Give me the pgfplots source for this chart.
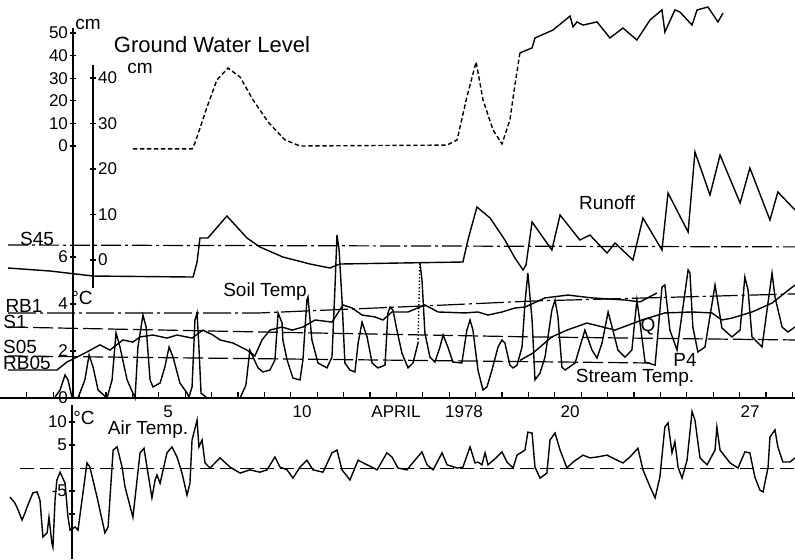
\documentclass[border=0pt]{standalone}
\usepackage{fontspec}
\setmainfont{Liberation Sans}
\usepackage{pgfplots}
\pgfplotsset{compat=1.18}

% every layer covers the whole picture; x is the day of April 1978
\pgfplotsset{
  layer/.style={width=397.5pt,height=279.5pt,scale only axis,
    xmin=-1.515,xmax=28.6,at={(0,0)},anchor=south west,clip=false},
  curve/.style={black,line width=0.7pt,no marks},
  scale/.style={scale only axis,width=0.01pt,xmin=0,xmax=1,anchor=south west,
    axis x line=none,xtick=\empty,tick style={black,line width=0.6pt},
    major tick length=2.5pt,tick align=outside,
    /pgf/number format/assume math mode=true,
    yticklabel style={font=\fontsize{8.5}{9}\selectfont,inner sep=1pt}},
  noarrow/.style={axis line style={-,line width=0.6pt}},
}

\begin{document}
\begin{tikzpicture}
\useasboundingbox (0,0) rectangle (397.5pt,279.5pt);

% Ground Water Level (cm)
\begin{axis}[layer,hide axis,ymin=-182.74,ymax=64.60]
\addplot[curve,dash pattern=on 2.2pt off 1.3pt] coordinates {
(3.52,-1.3)(5.76,-1.3)(5.87,1.3)(6.33,17.3)(6.70,29.2)(7.12,34.5)(7.58,30.5)
(8.07,20.4)(8.64,10.6)(9.28,2.7)(9.85,0)(15.42,0.4)(15.80,2.7)(16.17,21.7)
(16.52,37.2)(16.78,20.4)(17.16,7.1)(17.50,0.9)(17.80,11.5)(17.99,27.0)(18.18,41.2)};
\addplot[curve] coordinates {
(18.18,41.2)(18.64,43.4)(18.75,47.8)(19.43,51.3)(20.08,57.5)(20.19,52.7)
(20.34,54.9)(20.57,53.5)(21.10,54.9)(21.59,47.8)(22.08,52.2)(22.61,46.9)
(23.11,55.8)(23.56,60.2)(23.67,50.4)(24.05,60.2)(24.24,59.3)(24.70,53.5)
(24.89,60.2)(25.30,61.5)(25.68,54.9)(25.87,58.8)};
\end{axis}

% Runoff (cm)
\begin{axis}[layer,hide axis,ymin=-65.71,ymax=57.14]
\addplot[curve] coordinates {
(-1.21,-1.76)(0.38,-2.42)(2.01,-3.52)(5.80,-3.74)(5.95,-0.44)(6.06,4.84)
(6.36,4.84)(7.08,9.67)(7.84,4.84)(8.33,2.86)(9.20,0.66)(10.23,-0.88)
(10.98,-1.76)(11.36,-0.88)(13.64,-0.66)(16.02,-0.44)(16.21,4.4)(16.55,11.65)
(17.05,9.23)(17.61,4.4)(17.99,0.44)(18.30,-2.2)(18.41,-1.1)(18.64,8.35)
(19.39,2.2)(19.70,9.89)(20.45,4.4)(20.83,5.49)(21.48,1.54)(21.78,3.74)
(22.46,0)(22.84,9.23)(23.56,2.2)(23.79,14.73)(24.55,6.15)(24.81,23.74)
(25.38,14.29)(25.76,23.08)(26.52,12.53)(26.89,20.22)(27.65,8.79)(27.95,14.95)
(28.60,10.99)};
\end{axis}

% Soil and stream temperature (deg C)
\begin{axis}[layer,hide axis,ymin=-6.851,ymax=16.936,unbounded coords=jump]
% day boundary ticks on the date axis
\addplot[black,line width=0.6pt,no marks] coordinates {
(-0.5,0)(-0.5,0.25)(-0.5,nan)(0.5,0)(0.5,0.25)(0.5,nan)(1.5,0)(1.5,0.25)(1.5,nan)
(2.5,0)(2.5,0.25)(2.5,nan)(3.5,0)(3.5,0.25)(3.5,nan)(4.5,0)(4.5,0.25)(4.5,nan)
(5.5,0)(5.5,0.25)(5.5,nan)(6.5,0)(6.5,0.25)(6.5,nan)(7.5,0)(7.5,0.25)(7.5,nan)
(8.5,0)(8.5,0.25)(8.5,nan)(9.5,0)(9.5,0.25)(9.5,nan)(10.5,0)(10.5,0.25)(10.5,nan)
(11.5,0)(11.5,0.25)(11.5,nan)(12.5,0)(12.5,0.25)(12.5,nan)(13.5,0)(13.5,0.25)(13.5,nan)
(14.5,0)(14.5,0.25)(14.5,nan)(15.5,0)(15.5,0.25)(15.5,nan)(16.5,0)(16.5,0.25)(16.5,nan)
(17.5,0)(17.5,0.25)(17.5,nan)(18.5,0)(18.5,0.25)(18.5,nan)(19.5,0)(19.5,0.25)(19.5,nan)
(20.5,0)(20.5,0.25)(20.5,nan)(21.5,0)(21.5,0.25)(21.5,nan)(22.5,0)(22.5,0.25)(22.5,nan)
(23.5,0)(23.5,0.25)(23.5,nan)(24.5,0)(24.5,0.25)(24.5,nan)(25.5,0)(25.5,0.25)(25.5,nan)
(26.5,0)(26.5,0.25)(26.5,nan)(27.5,0)(27.5,0.25)(27.5,nan)(28.5,0)(28.5,0.25)};
% S45
\addplot[curve,line width=0.6pt,dash pattern=on 10pt off 2pt on 1.5pt off 2pt] coordinates {(-1.21,6.51)(28.6,6.43)};
% RB1
\addplot[curve,line width=0.6pt,dash pattern=on 14pt off 2pt on 1.5pt off 2pt] coordinates {
(-1.21,3.62)(8.33,3.62)(14.39,3.91)(18.75,4.13)(28.6,4.43)};
% S1
\addplot[curve,line width=0.6pt,dash pattern=on 10pt off 2.5pt] coordinates {
(-1.21,3.02)(8.33,2.81)(18.56,2.60)(28.6,2.47)};
% S05 / P4
\addplot[curve,line width=0.6pt,dash pattern=on 10pt off 2.5pt] coordinates {(-1.21,1.79)(23.11,1.49)};
% RB05
\addplot[curve] coordinates {
(-1.21,1.19)(0.64,1.19)(1.02,1.53)(1.40,1.74)(1.78,1.96)(2.27,2.26)(2.65,2.04)
(3.14,2.47)(3.52,2.38)(3.79,2.60)(4.28,2.68)(4.81,2.55)(5.19,2.68)(5.76,2.55)
(6.17,2.89)(6.55,2.68)(6.82,2.47)(7.31,2.34)(7.84,2.04)(8.14,1.79)(8.41,2.47)
(8.71,2.89)(9.17,3.02)(9.55,2.89)(9.96,3.02)(10.42,3.32)(11.06,3.23)(11.48,3.96)
(11.82,3.83)(12.20,3.53)(12.69,3.45)(12.99,3.32)(13.33,3.66)(13.94,3.66)
(14.58,3.96)(15.08,3.66)(16.10,3.62)(16.59,3.66)(16.97,3.53)(17.50,3.66)
(17.99,3.83)(18.37,3.87)(19.13,4.26)(20.00,4.38)(20.91,4.26)(22.16,4.17)
(22.73,4.09)(23.37,4.47)};
% Q
\addplot[curve] coordinates {
(18.18,1.60)(18.67,1.91)(19.39,2.60)(19.96,2.89)(20.72,3.19)(21.78,2.89)
(22.80,3.32)(23.67,3.62)(24.70,3.66)(25.45,3.62)(25.83,3.32)(26.21,3.40)
(26.97,3.66)(27.73,4.04)(28.60,4.81)};
% Stream temperature
\addplot[curve] coordinates {
(0.57,0.04)(0.76,0.34)(0.95,0.98)(1.06,0.77)(1.21,0.04)(1.44,0)(1.70,0.77)
(1.86,1.83)(2.01,1.32)(2.20,0.34)(2.54,0)(2.73,0.77)(2.88,2.77)(3.03,2.17)
(3.30,0.77)(3.60,0)(3.71,2.17)(3.90,3.53)(4.02,3.02)(4.17,0.77)(4.28,0.47)
(4.55,0.64)(4.73,1.32)(4.89,2.17)(5.04,1.74)(5.30,0.64)(5.57,0.21)(5.64,0.04)
(5.76,0.47)(5.87,3.32)(5.95,3.62)(6.02,2.17)(6.10,0.21)(6.33,0)(7.58,0)
(7.80,0.55)(7.95,2.04)(8.07,1.74)(8.26,1.28)(8.45,1.11)(8.71,1.19)(8.90,1.62)
(9.02,3.62)(9.17,3.19)(9.20,2.47)(9.36,1.62)(9.58,0.85)(9.85,0.77)(9.96,1.62)
(10.11,4.17)(10.15,4.30)(10.30,2.47)(10.53,1.49)(10.87,1.28)(11.06,1.74)
(11.17,4.60)(11.25,6.94)(11.33,6.30)(11.44,4.17)(11.55,1.49)(11.74,1.19)
(11.93,1.11)(12.05,2.34)(12.20,3.23)(12.39,2.60)(12.58,1.49)(12.80,1.28)
(13.07,1.40)(13.18,3.62)(13.26,3.87)(13.37,3.74)(13.52,2.89)(13.71,1.91)
(13.94,1.28)(14.13,1.49)(14.28,2.17)(14.32,2.34)};
\addplot[curve,densely dotted] coordinates {(14.32,2.34)(14.39,5.79)};
\addplot[curve] coordinates {
(14.39,5.79)(14.47,5.02)(14.58,2.77)(14.77,1.74)(14.96,1.53)(15.15,2.17)
(15.27,2.68)(15.45,2.17)(15.64,1.53)(15.98,1.49)(16.17,2.89)(16.29,3.32)
(16.40,2.89)(16.59,1.19)(16.78,0.34)(16.93,0.47)(17.12,1.19)(17.35,2.17)
(17.50,2.47)(17.61,2.34)(17.80,1.40)(17.92,1.28)(18.07,1.40)(18.26,2.17)
(18.37,4.04)(18.48,5.32)(18.64,3.32)(18.75,0.77)(18.94,1.06)(19.13,1.74)
(19.39,3.74)(19.51,4.17)(19.62,3.45)(19.77,1.32)(19.89,1.19)(20.27,1.49)
(20.64,2.89)(20.91,2.04)(21.10,1.70)(21.29,2.34)(21.52,3.66)(21.67,3.02)
(21.89,2.04)(22.16,1.74)(22.42,2.04)(22.61,4.17)(22.73,3.19)(22.92,1.53)
(23.30,1.40)(23.56,4.72)(23.67,4.81)(23.86,2.89)(24.13,2.04)(24.55,5.45)
(24.62,5.32)(24.73,3.02)(24.92,1.96)(25.19,2.17)(25.57,4.81)(25.68,4.04)
(25.83,2.98)(26.21,2.60)(26.52,2.89)(26.70,5.15)(26.82,4.60)(26.97,2.60)
(27.35,2.17)(27.73,5.32)(27.84,4.30)(28.11,3.02)(28.33,2.81)(28.60,3.02)};
\end{axis}

% date axis line at 0 deg C
\begin{axis}[width=397.5pt,height=2pt,scale only axis,xmin=-1.515,xmax=28.6,
  ymin=0,ymax=1,at={(0pt,80.5pt)},anchor=north west,
  axis x line=top,hide y axis,noarrow,xtick=\empty]
\end{axis}

% Air temperature (deg C)
\begin{axis}[layer,hide axis,ymin=-19.78,ymax=101.74]
\addplot[curve,line width=0.5pt,dash pattern=on 7pt off 3pt] coordinates {(-0.76,0)(28.6,0)};
\addplot[curve] coordinates {
(-1.14,-6.3)(-0.95,-7.6)(-0.83,-9.1)(-0.68,-11.3)(-0.57,-9.8)(-0.49,-8.5)
(-0.27,-5.4)(-0.11,-5.2)(0,-7.0)(0.11,-15.0)(0.27,-14.1)(0.34,-10.7)(0.45,-16.3)
(0.49,-17.2)(0.57,-7.0)(0.64,-2.6)(0.76,-0.9)(0.95,-3.3)(1.06,-10.7)(1.14,-13.5)
(1.33,-12.8)(1.44,-13.5)(1.59,-7.0)(1.78,1.1)(1.89,0.2)(2.16,-6.3)(2.46,-14.1)
(2.58,-12.8)(2.77,3.9)(2.92,4.6)(3.11,0.2)(3.22,-4.1)(3.52,-10.7)(3.79,3.3)
(3.94,4.3)(4.09,-1.1)(4.24,-6.5)(4.36,-2.6)(4.43,-1.5)(4.55,-3.3)(4.81,3.3)
(5.00,4.6)(5.19,2.4)(5.38,-1.1)(5.57,-5.9)(5.68,-3.3)(5.76,6.1)(5.95,10.4)
(6.02,4.6)(6.14,6.1)(6.25,1.1)(6.44,0)(6.82,2.2)(7.20,0.2)(7.58,-1.1)(7.95,-0.4)
(8.33,-0.9)(8.60,-0.4)(8.90,2.4)(9.09,0.2)(9.36,-0.4)(9.58,-2.2)(9.85,0.2)
(10.11,1.7)(10.34,-0.4)(10.72,-0.9)(11.06,3.3)(11.25,3.9)(11.44,-0.4)(11.74,-2.6)
(12.05,1.7)(12.39,0.7)(12.77,-0.4)(13.14,3.3)(13.33,2.4)(13.56,0)(13.90,-0.4)
(14.20,1.7)(14.47,3.5)(14.66,0.7)(14.89,-0.4)(15.23,3.3)(15.42,0.7)(15.80,0)
(16.02,0.2)(16.29,4.6)(16.48,1.1)(16.59,1.3)(16.74,0.7)(16.86,3.3)(16.97,0.7)
(17.31,2.4)(17.50,3.5)(17.69,1.3)(17.92,0)(18.07,2.8)(18.37,3.9)(18.48,7.8)
(18.64,7.6)(18.75,0.2)(18.94,-2.2)(19.20,-1.1)(19.32,6.1)(19.51,7.6)(19.70,3.9)
(19.96,0)(20.19,1.3)(20.57,2.8)(20.83,2.2)(21.10,2.4)(21.48,2.8)(21.86,1.7)
(22.08,1.1)(22.35,2.4)(22.65,4.3)(22.84,-0.4)(23.11,-4.1)(23.30,-6.5)(23.48,-2.0)
(23.67,8.9)(23.79,9.8)(23.94,3.3)(24.05,5.7)(24.17,0.2)(24.32,-2.2)(24.51,1.7)
(24.70,12.3)(24.81,10.4)(25.00,2.2)(25.27,0.7)(25.57,3.9)(25.64,8.9)(25.76,3.9)
(26.14,1.1)(26.44,0)(26.70,3.5)(26.89,3.3)(27.08,-2.0)(27.27,-4.8)(27.39,-5.2)
(27.58,0.2)(27.65,6.7)(27.84,8.3)(27.95,4.6)(28.14,1.3)(28.41,1.3)(28.60,2.2)};
\end{axis}

% vertical scales
\begin{axis}[scale,at={(36.5pt,206.5pt)},height=59pt,ymin=0,ymax=52.21,
  axis y line=left,noarrow,ytick={0,10,20,30,40,50}]
\end{axis}
\begin{axis}[scale,at={(36.5pt,80.5pt)},height=126pt,ymin=0,ymax=10.72,
  axis y line=left,noarrow,ytick={0,2,4,6}]
\end{axis}
\begin{axis}[scale,at={(46.5pt,135.5pt)},height=111.5pt,ymin=-6.15,ymax=42.86,
  axis y line=right,noarrow,ytick={0,10,20,30,40}]
\end{axis}
\begin{axis}[scale,at={(36pt,0pt)},height=77pt,ymin=-19.78,ymax=13.70,
  axis y line=left,noarrow,ytick={-10,-5,5,10},yticklabels={,{-5},5,10}]
\end{axis}

% labels, placed in picture pixels
\begin{scope}[x=0.5pt,y=-0.5pt,yshift=279.5pt,font=\fontsize{9.5}{11}\selectfont,inner sep=0pt]
\node[font=\fontsize{11}{13}\selectfont] at (212,45) {Ground Water Level};
\node at (88,24) {cm};
\node at (140,68) {cm};
\node at (82,298) {°C};
\node at (84,418) {°C};
\node at (607,203) {Runoff};
\node at (265,292) {Soil Temp};
\node at (635,378) {Stream Temp.};
\node at (648,327) {Q};
\node at (685,360) {P4};
\node at (148,430) {Air Temp.};
\node at (37,239) {S45};
\node at (24,306) {RB1};
\node at (15,322) {S1};
\node at (20,347) {S05};
\node at (27,363) {RB05};
\begin{scope}[font=\fontsize{8.5}{10}\selectfont]
\node at (168,412) {5};
\node at (302,412) {10};
\node at (396,412) {APRIL};
\node at (464,412) {1978};
\node at (570,412) {20};
\node at (750,412) {27};
\end{scope}
\end{scope}
\end{tikzpicture}
\end{document}
